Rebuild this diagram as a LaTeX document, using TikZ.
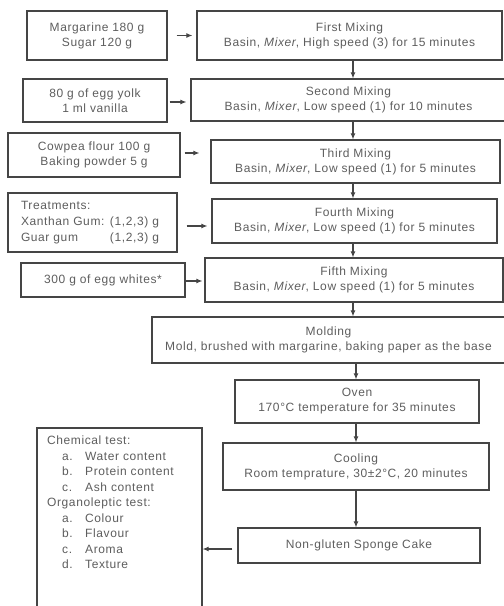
\documentclass[tikz,border=0pt]{standalone}
\usepackage{fontspec}
\setmainfont{Liberation Sans}[LetterSpace=5]
\usetikzlibrary{arrows.meta}
\definecolor{txt}{HTML}{5E5E5E}
\definecolor{ln}{HTML}{454545}
\begin{document}
\begin{tikzpicture}[x=1pt,y=-1pt,
  box/.style={draw=ln,line width=1.2pt,text=txt,align=center,inner sep=0pt,font=\fontsize{12}{15}\selectfont},
  plain/.style={text=txt,align=left,inner sep=0pt,font=\fontsize{12}{15.5}\selectfont},
  arr/.style={draw=ln,line width=1.1pt,-{Latex[length=6pt,width=5pt]}}]
\useasboundingbox (0,0) rectangle (504,606);
\clip (0,0) rectangle (504,606);
\fill[white] (0,0) rectangle (504,606);
% left ingredient boxes
\node[box,minimum width=140pt,minimum height=49pt] (m1) at (97,35.5) {Margarine 180 g\\Sugar 120 g};
\node[box,minimum width=144pt,minimum height=43pt] (m2) at (95,100.5) {80 g of egg yolk\\1 ml vanilla};
\node[box,minimum width=172pt,minimum height=44pt] (m3) at (94,155) {Cowpea flour 100 g\\Baking powder 5 g};
\node[box,minimum width=169pt,minimum height=59pt,align=left,text width=143pt,font=\fontsize{12}{16}\selectfont] (m4) at (92.5,222.5) {Treatments:\\\makebox[89pt][l]{Xanthan Gum:}(1,2,3) g\\\makebox[89pt][l]{Guar gum}(1,2,3) g};
\node[box,minimum width=164pt,minimum height=34pt] (m5) at (103,280) {300 g of egg whites*};
% process boxes
\node[box,minimum width=305pt,minimum height=49pt] (r1) at (349.5,35.5) {First Mixing\\Basin, \emph{Mixer}, High speed (3) for 15 minutes};
\node[box,minimum width=315pt,minimum height=42pt] (r2) at (348.5,100) {Second Mixing\\Basin, \emph{Mixer}, Low speed (1) for 10 minutes};
\node[box,minimum width=289pt,minimum height=43pt] (r3) at (355.5,161.5) {Third Mixing\\Basin, \emph{Mixer}, Low speed (1) for 5 minutes};
\node[box,minimum width=285pt,minimum height=44pt] (r4) at (354.5,221) {Fourth Mixing\\Basin, \emph{Mixer}, Low speed (1) for 5 minutes};
\node[box,minimum width=298pt,minimum height=44pt] (r5) at (354,280) {Fifth Mixing\\Basin, \emph{Mixer}, Low speed (1) for 5 minutes};
\node[box,minimum width=353pt,minimum height=46pt] (mold) at (328.5,340) {Molding\\Mold, brushed with margarine, baking paper as the base};
\node[box,minimum width=244pt,minimum height=43pt] (oven) at (357,401.5) {Oven\\170°C temperature for 35 minutes};
\node[box,minimum width=266pt,minimum height=47pt] (cool) at (356,466.5) {Cooling\\Room temprature, 30±2°C, 20 minutes};
\node[box,minimum width=242pt,minimum height=35pt] (cake) at (359,545.5) {Non-gluten Sponge Cake};
% tests box
\node[box,minimum width=165pt,minimum height=196pt] (tests) at (119.5,526) {};
\node[plain,anchor=north west] (testtxt) at (47,436) {Chemical test:\\
\hspace*{15pt}\makebox[23pt][l]{a.}Water content\\
\hspace*{15pt}\makebox[23pt][l]{b.}Protein content\\
\hspace*{15pt}\makebox[23pt][l]{c.}Ash content\\
Organoleptic test:\\
\hspace*{15pt}\makebox[23pt][l]{a.}Colour\\
\hspace*{15pt}\makebox[23pt][l]{b.}Flavour\\
\hspace*{15pt}\makebox[23pt][l]{c.}Aroma\\
\hspace*{15pt}\makebox[23pt][l]{d.}Texture};
% horizontal arrows
\draw[arr,shorten <=9pt,shorten >=4pt] (m1.east) -- (m1.east -| r1.west);
\draw[arr,shorten <=2pt,shorten >=4pt] ([yshift=-1.5pt]m2.east) -- ([yshift=-1.5pt]m2.east -| r2.west);
\draw[arr,shorten <=4pt,shorten >=11pt] ([yshift=2pt]m3.east) -- ([yshift=2pt]m3.east -| r3.west);
\draw[arr,shorten <=9pt,shorten >=4pt] ([yshift=-3.5pt]m4.east) -- ([yshift=-3.5pt]m4.east -| r4.west);
\draw[arr,shorten >=2pt] ([yshift=-1pt]m5.east) -- ([yshift=-1pt]m5.east -| r5.west);
% vertical arrows
\coordinate (vx) at (353,0);
\coordinate (vy) at (356,0);
\draw[arr] (r1.south -| vx) -- (r2.north -| vx);
\draw[arr] (r2.south -| vx) -- (r3.north -| vx);
\draw[arr] (r3.south -| vx) -- (r4.north -| vx);
\draw[arr] (r4.south -| vx) -- (r5.north -| vx);
\draw[arr] (r5.south -| vx) -- (mold.north -| vx);
\draw[arr] (mold.south -| vy) -- (oven.north -| vy);
\draw[arr] (oven.south -| vy) -- (cool.north -| vy);
\draw[arr] (cool.south -| vy) -- (cake.north -| vy);
% to tests
\draw[arr,shorten <=5pt] ([yshift=-3.5pt]cake.west) -- ([yshift=-3.5pt]cake.west -| tests.east);
\end{tikzpicture}
\end{document}
